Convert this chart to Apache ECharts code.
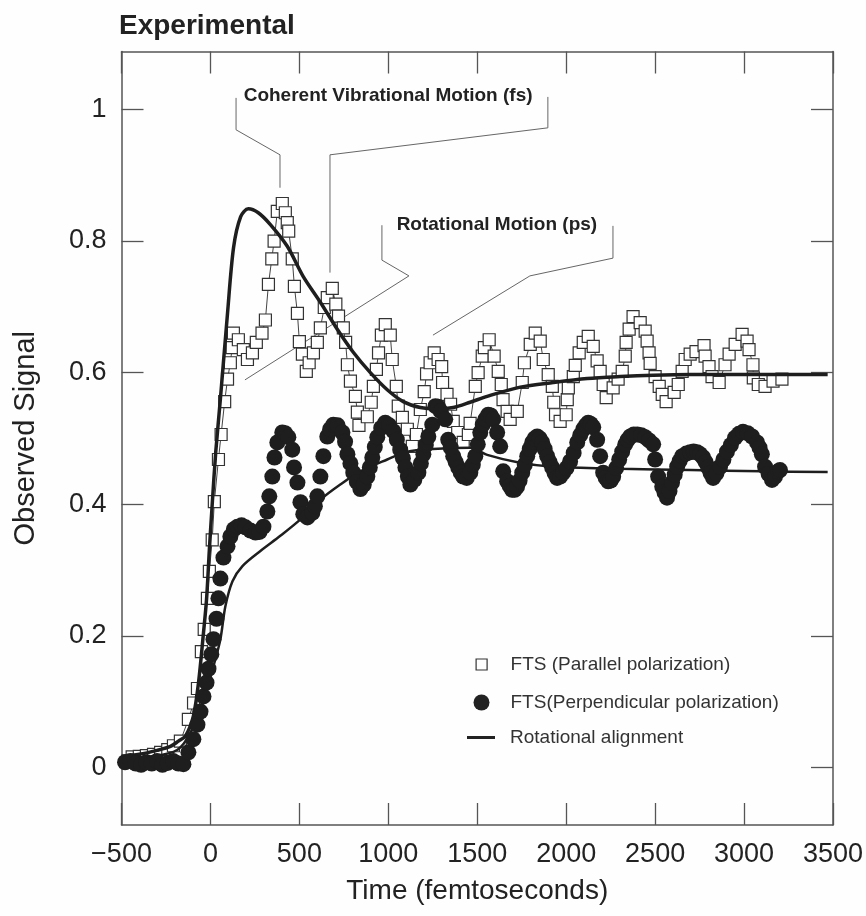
<!DOCTYPE html>
<html>
<head>
<meta charset="utf-8">
<script src="https://cdn.jsdelivr.net/npm/echarts@6/dist/echarts.min.js"></script>
<style>
  html, body { margin: 0; padding: 0; background: #fefefe; }
  #chart { width: 866px; height: 916px; }
</style>
</head>
<body>
<div id="chart"></div>
<script>
// 平行偏振 (空心方块) [时间 fs, 信号]
const parallelData = [
  [-440,0.016],[-400,0.017],[-360,0.018],[-320,0.02],[-280,0.023],[-240,0.027],[-208,0.033],[-169,0.04],
  [-124,0.073],[-95,0.098],[-73,0.12],[-51,0.176],[-35,0.21],[-17,0.257],[-6,0.298],[10,0.346],[22,0.404],
  [45,0.468],[60,0.506],[80,0.556],[96,0.59],[112,0.615],[122,0.638],[129,0.66],[157,0.65],[185,0.635],
  [208,0.62],[236,0.63],[258,0.646],[290,0.66],[309,0.68],[326,0.734],[345,0.773],[358,0.80],[376,0.845],
  [404,0.857],[421,0.843],[432,0.828],[440,0.815],[460,0.773],[472,0.731],[489,0.69],[500,0.647],[517,0.628],
  [539,0.602],[555,0.615],[579,0.63],[601,0.646],[618,0.668],[640,0.699],[657,0.714],[685,0.728],[705,0.704],
  [720,0.686],[747,0.668],[760,0.646],[770,0.612],[787,0.587],[815,0.564],[826,0.54],[835,0.52],[882,0.533],
  [904,0.555],[916,0.579],[933,0.605],[945,0.63],[961,0.657],[983,0.673],[1011,0.657],[1022,0.62],[1045,0.579],
  [1056,0.549],[1079,0.532],[1107,0.514],[1135,0.488],[1158,0.506],[1180,0.544],[1202,0.571],[1215,0.598],
  [1235,0.615],[1258,0.63],[1280,0.62],[1300,0.609],[1305,0.585],[1330,0.567],[1350,0.552],[1365,0.526],
  [1390,0.509],[1421,0.494],[1450,0.506],[1460,0.523],[1489,0.579],[1505,0.6],[1528,0.625],[1540,0.638],
  [1567,0.65],[1595,0.625],[1618,0.602],[1635,0.582],[1645,0.559],[1668,0.541],[1685,0.529],[1725,0.541],
  [1753,0.585],[1765,0.615],[1798,0.643],[1826,0.66],[1854,0.648],[1871,0.62],[1899,0.597],[1922,0.579],
  [1930,0.555],[1940,0.536],[1966,0.526],[2000,0.536],[2006,0.559],[2012,0.577],[2040,0.594],[2051,0.611],
  [2073,0.63],[2096,0.646],[2124,0.655],[2152,0.64],[2174,0.618],[2191,0.602],[2208,0.582],[2225,0.562],
  [2264,0.577],[2292,0.59],[2315,0.602],[2332,0.625],[2337,0.646],[2354,0.666],[2376,0.685],[2416,0.676],
  [2444,0.663],[2455,0.648],[2466,0.63],[2472,0.614],[2500,0.594],[2523,0.579],[2540,0.567],[2562,0.556],
  [2607,0.57],[2630,0.582],[2652,0.602],[2669,0.62],[2697,0.628],[2730,0.632],[2775,0.641],[2781,0.625],
  [2803,0.609],[2820,0.594],[2860,0.585],[2893,0.612],[2916,0.628],[2950,0.643],[2989,0.658],[3017,0.648],
  [3028,0.635],[3050,0.612],[3052,0.592],[3080,0.582],[3118,0.579],[3163,0.587],[3213,0.59]
];

// 垂直偏振 (实心圆点)
const perpendicularData = [
  [-480,0.008],[-450,0.01],[-420,0.006],[-390,0.004],[-360,0.008],[-330,0.006],[-300,0.01],[-270,0.004],
  [-240,0.007],[-210,0.01],[-180,0.006],[-152,0.005],[-124,0.023],[-96,0.043],[-73,0.065],[-56,0.085],
  [-39,0.108],[-22,0.129],[-11,0.15],[5,0.172],[17,0.195],[34,0.226],[45,0.257],[56,0.287],[73,0.319],
  [96,0.336],[112,0.351],[132,0.362],[152,0.366],[175,0.368],[197,0.365],[225,0.36],[253,0.357],[276,0.358],
  [298,0.366],[320,0.389],[331,0.412],[348,0.442],[360,0.471],[376,0.494],[404,0.509],[420,0.508],[438,0.502],
  [460,0.483],[470,0.456],[489,0.433],[506,0.403],[522,0.385],[545,0.38],[573,0.387],[587,0.397],[601,0.412],
  [618,0.442],[635,0.473],[657,0.503],[673,0.514],[691,0.521],[715,0.52],[742,0.509],[757,0.495],[770,0.476],
  [787,0.462],[803,0.448],[823,0.434],[843,0.423],[862,0.43],[882,0.442],[896,0.456],[910,0.471],[924,0.487],
  [938,0.502],[960,0.516],[983,0.524],[1005,0.52],[1028,0.511],[1048,0.498],[1067,0.483],[1082,0.47],
  [1096,0.456],[1110,0.442],[1124,0.43],[1146,0.437],[1169,0.448],[1183,0.462],[1197,0.476],[1211,0.49],
  [1225,0.503],[1247,0.521],[1265,0.549],[1280,0.548],[1295,0.541],[1320,0.529],[1337,0.498],[1351,0.486],
  [1365,0.473],[1379,0.464],[1393,0.456],[1407,0.448],[1421,0.442],[1441,0.44],[1461,0.448],[1475,0.46],
  [1489,0.473],[1503,0.491],[1517,0.509],[1531,0.521],[1545,0.529],[1562,0.536],[1576,0.535],[1590,0.529],
  [1612,0.509],[1629,0.488],[1646,0.45],[1668,0.435],[1682,0.428],[1696,0.422],[1710,0.422],[1724,0.427],
  [1738,0.436],[1753,0.448],[1767,0.46],[1781,0.473],[1795,0.484],[1809,0.494],[1823,0.5],[1837,0.503],
  [1851,0.5],[1865,0.494],[1879,0.484],[1893,0.473],[1907,0.464],[1921,0.456],[1935,0.447],[1949,0.44],
  [1966,0.442],[1983,0.448],[2002,0.455],[2022,0.465],[2042,0.478],[2062,0.494],[2079,0.505],[2096,0.514],
  [2110,0.52],[2124,0.524],[2138,0.522],[2152,0.517],[2174,0.498],[2191,0.473],[2208,0.448],[2222,0.44],
  [2236,0.435],[2250,0.436],[2264,0.442],[2281,0.455],[2298,0.468],[2315,0.48],[2332,0.491],[2346,0.498],
  [2360,0.503],[2380,0.506],[2400,0.506],[2422,0.505],[2444,0.502],[2466,0.497],[2489,0.491],[2500,0.468],
  [2517,0.442],[2540,0.427],[2553,0.418],[2567,0.41],[2581,0.42],[2595,0.433],[2610,0.445],[2624,0.457],
  [2638,0.466],[2652,0.473],[2675,0.477],[2697,0.479],[2716,0.48],[2736,0.479],[2753,0.476],[2770,0.471],
  [2784,0.464],[2798,0.456],[2812,0.447],[2826,0.44],[2845,0.447],[2865,0.457],[2884,0.468],[2904,0.48],
  [2926,0.49],[2949,0.501],[2971,0.507],[2994,0.51],[3020,0.508],[3045,0.503],[3073,0.494],[3087,0.486],
  [3100,0.476],[3118,0.457],[3138,0.446],[3157,0.437],[3174,0.442],[3191,0.45],[3202,0.452]
];

// 转动取向曲线 (平行 / 垂直)
const rotParallel = [
  [-500,0.017],[-400,0.02],[-300,0.026],[-225,0.032],[-180,0.04],[-140,0.048],[-96,0.078],[-67,0.129],
  [-39,0.205],[-22,0.255],[-6,0.331],[10,0.40],[30,0.48],[56,0.56],[96,0.69],[130,0.79],[170,0.837],
  [213,0.849],[269,0.843],[337,0.825],[432,0.792],[522,0.746],[618,0.707],[713,0.666],[803,0.631],
  [899,0.6],[994,0.574],[1084,0.556],[1180,0.547],[1275,0.545],[1365,0.547],[1460,0.555],[1556,0.564],
  [1742,0.578],[1927,0.585],[2118,0.591],[2303,0.594],[2489,0.596],[2700,0.597],[3000,0.597],[3470,0.597]
];
const rotPerpendicular = [
  [-500,0.015],[-320,0.017],[-185,0.027],[-112,0.053],[-39,0.103],[17,0.154],[56,0.195],[84,0.245],
  [124,0.283],[180,0.306],[281,0.329],[393,0.352],[506,0.377],[618,0.407],[730,0.43],[843,0.45],
  [994,0.468],[1107,0.48],[1250,0.484],[1461,0.486],[1556,0.475],[1740,0.463],[1927,0.457],[2303,0.454],
  [2700,0.452],[3100,0.45],[3470,0.449]
];

// 坐标轴刻度
const yTicks = [0, 0.2, 0.4, 0.6, 0.8, 1];

// 注释文字与引线 (数据坐标)
const noteTexts = [
  { text: 'Coherent Vibrational Motion (fs)', at: [184, 1.021] },
  { text: 'Rotational Motion (ps)', at: [1044, 0.825] }
];
const noteLines = [
  [[144,1.0175],[144,0.969],[391,0.931],[391,0.881]],
  [[1897,1.019],[1897,0.972],[672,0.931],[672,0.752]],
  [[964,0.824],[964,0.771],[1116,0.747],[194,0.589]],
  [[2263,0.823],[2263,0.774],[1796,0.747],[1251,0.657]]
];

const chart = echarts.init(document.getElementById('chart'));
const FONT = '"Liberation Sans", Arial, Helvetica, sans-serif';
const INK = '#222';
const FRAME = '#555';

// 引线合并成一个系列, 用 '-' 断开
const leaderData = [];
noteLines.forEach(seg => { seg.forEach(p => leaderData.push(p)); leaderData.push(['-', '-']); });

const fmtNum = v => (v < 0 ? '\u2212' + Math.abs(v) : String(v));

const legendText = { fontFamily: FONT, fontSize: 19, color: '#333', padding: [0, 0, 0, 10] };

const option = {
  backgroundColor: '#fefefe',
  animation: false,
  title: {
    text: 'Experimental',
    left: 119, top: 12, padding: 0,
    textStyle: { fontFamily: FONT, fontSize: 28, fontWeight: 'bold', color: INK }
  },
  legend: [
    {
      data: [{ name: 'FTS (Parallel polarization)', icon: 'path://M0,0H10V10H0Z',
               itemStyle: { color: '#fff', borderColor: '#333', borderWidth: 1.2 } }],
      orient: 'vertical', left: 475.5, top: 655, padding: 0, itemWidth: 28, itemHeight: 11,
      textStyle: legendText, selectedMode: false
    },
    {
      data: [{ name: 'FTS(Perpendicular polarization)', icon: 'circle', itemStyle: { color: '#222' } }],
      orient: 'vertical', left: 473.5, top: 693, padding: 0, itemWidth: 28, itemHeight: 16,
      textStyle: legendText, selectedMode: false
    },
    {
      data: [{ name: 'Rotational alignment', icon: 'rect', itemStyle: { color: '#222' } }],
      orient: 'vertical', left: 467, top: 728, padding: 0, itemWidth: 28, itemHeight: 3,
      textStyle: legendText, selectedMode: false
    }
  ],
  grid: { left: 121.5, right: 33, top: 51.5, bottom: 91, containLabel: false, outerBoundsMode: 'none' },
  xAxis: [
    {
      type: 'value', min: -500, max: 3500, interval: 500,
      name: 'Time (femtoseconds)', nameLocation: 'middle', nameGap: 52,
      nameTextStyle: { fontFamily: FONT, fontSize: 28, color: INK },
      axisLine: { onZero: false, lineStyle: { color: FRAME, width: 1.5 } },
      axisTick: { inside: true, length: 22, lineStyle: { color: FRAME, width: 1.3 } },
      axisLabel: { fontFamily: FONT, fontSize: 27, color: INK, margin: 16, formatter: fmtNum },
      splitLine: { show: false }
    },
    {
      type: 'value', position: 'top', min: -500, max: 3500, interval: 500,
      axisLine: { onZero: false, lineStyle: { color: FRAME, width: 1.5 } },
      axisTick: { inside: true, length: 22, lineStyle: { color: FRAME, width: 1.3 } },
      axisLabel: { show: false }, splitLine: { show: false }
    }
  ],
  yAxis: [
    {
      type: 'value', min: -0.0874, max: 1.088,
      name: 'Observed Signal', nameLocation: 'middle', nameGap: 81,
      nameTextStyle: { fontFamily: FONT, fontSize: 29, color: INK },
      axisLine: { show: true, onZero: false, lineStyle: { color: FRAME, width: 1.5 } },
      axisTick: { show: true, inside: true, length: 22, customValues: yTicks, lineStyle: { color: FRAME, width: 1.3 } },
      axisLabel: { fontFamily: FONT, fontSize: 27, color: INK, margin: 15, customValues: yTicks, formatter: fmtNum },
      splitLine: { show: false }
    },
    {
      type: 'value', position: 'right', min: -0.0874, max: 1.088,
      axisLine: { show: true, onZero: false, lineStyle: { color: FRAME, width: 1.5 } },
      axisTick: { show: true, inside: true, length: 22, customValues: yTicks, lineStyle: { color: FRAME, width: 1.3 } },
      axisLabel: { show: false }, splitLine: { show: false }
    }
  ],
  series: [
    {
      name: 'notes-lines', type: 'line', data: leaderData, silent: true, z: 1,
      showSymbol: false, connectNulls: false,
      lineStyle: { color: '#666', width: 1 }
    },
    {
      name: 'parallel-link', type: 'line', data: parallelData, silent: true, z: 2,
      showSymbol: false, lineStyle: { color: '#444', width: 1 }
    },
    {
      name: 'FTS (Parallel polarization)', type: 'scatter', data: parallelData, z: 3,
      symbol: 'rect', symbolSize: 12,
      itemStyle: { color: '#fff', borderColor: '#333', borderWidth: 1.2, opacity: 1 }
    },
    {
      name: 'Rotational alignment', type: 'line', data: rotParallel, z: 4,
      smooth: 0.3, showSymbol: false,
      lineStyle: { color: '#1e1e1e', width: 3.5 }
    },
    {
      name: 'Rotational alignment', type: 'line', data: rotPerpendicular, z: 4,
      smooth: 0.3, showSymbol: false,
      lineStyle: { color: '#1e1e1e', width: 2.5 }
    },
    {
      name: 'FTS(Perpendicular polarization)', type: 'scatter', data: perpendicularData, z: 5,
      symbol: 'circle', symbolSize: 16,
      itemStyle: { color: '#1e1e1e', opacity: 1 }
    },
    {
      name: 'notes-text', type: 'scatter', z: 6, silent: true,
      data: noteTexts.map(n => ({ value: n.at, label: { formatter: n.text } })),
      symbolSize: 1, itemStyle: { color: 'rgba(0,0,0,0)', opacity: 1 },
      label: {
        show: true, position: 'right', distance: 0,
        fontFamily: FONT, fontSize: 19, fontWeight: 'bold', color: '#222'
      }
    }
  ]
};

chart.setOption(option);
</script>
</body>
</html>
